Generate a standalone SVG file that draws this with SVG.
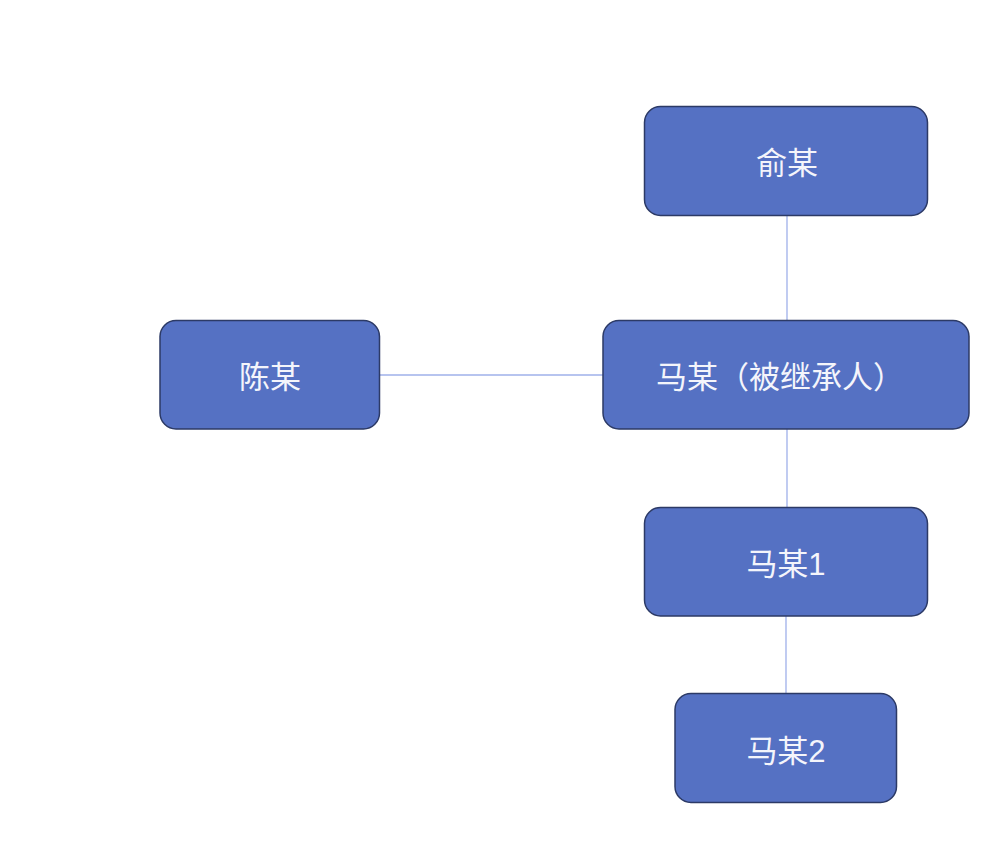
<svg xmlns="http://www.w3.org/2000/svg" width="1007" height="854" viewBox="0 0 1007 854">
<style>
.box{fill:#5571C3;stroke:#2C3A66;stroke-width:1.5}
.lbl{fill:#F4F5FB;font-family:"Liberation Sans","Noto Sans CJK SC",sans-serif;font-size:31px;text-anchor:middle;dominant-baseline:central}
.con{stroke:#9FB0EA;stroke-width:1.3;fill:none}
</style>
<rect width="1007" height="854" fill="#FFFFFF"/>
<g id="connectors">
<line class="con" x1="787" y1="216" x2="787" y2="320"/>
<line class="con" x1="380" y1="375" x2="603" y2="375"/>
<line class="con" x1="787" y1="429" x2="787" y2="507"/>
<line class="con" x1="786" y1="616" x2="786" y2="693"/>
</g>
<g id="node-yu">
<rect class="box" x="644.5" y="106.5" width="283" height="109" rx="16"/>
<text class="lbl" x="787" y="163">俞某</text>
</g>
<g id="node-chen">
<rect class="box" x="160" y="320.5" width="219.5" height="108.5" rx="16"/>
<text class="lbl" x="270" y="377">陈某</text>
</g>
<g id="node-ma">
<rect class="box" x="603" y="320.5" width="366" height="108.5" rx="16"/>
<text class="lbl" x="780" y="377">马某（被继承人）</text>
</g>
<g id="node-ma1">
<rect class="box" x="644.5" y="507.5" width="283" height="108.5" rx="16"/>
<text class="lbl" x="786" y="564">马某1</text>
</g>
<g id="node-ma2">
<rect class="box" x="675" y="693.5" width="221.5" height="109" rx="16"/>
<text class="lbl" x="786" y="751">马某2</text>
</g>
</svg>
